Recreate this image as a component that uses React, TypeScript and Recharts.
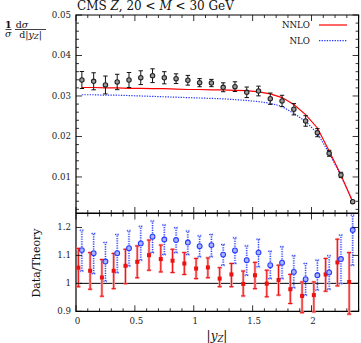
import React from "react";
import {
  ComposedChart, Line, Scatter, XAxis, YAxis, ErrorBar, ReferenceLine, ReferenceArea,
} from "recharts";

// bin centres in |y_Z|
const yBins = [
  0.05, 0.15, 0.25, 0.35, 0.45, 0.55, 0.65, 0.75, 0.85, 0.95, 1.05, 1.15,
  1.25, 1.35, 1.45, 1.55, 1.65, 1.75, 1.85, 1.95, 2.05, 2.15, 2.25, 2.35,
];

// CMS data, 1/sigma dsigma/d|y|
const dataVals = [
  0.03395, 0.03363, 0.03272, 0.03346, 0.03395, 0.03452, 0.03501, 0.0345, 0.03427, 0.03388, 0.03329, 0.0332,
  0.03215, 0.0323, 0.03091, 0.03123, 0.02933, 0.02877, 0.02672, 0.02383, 0.02094, 0.01585, 0.01049, 0.0039,
];
const dataErr = [
  0.0021, 0.0021, 0.0022, 0.0019, 0.00185, 0.0017, 0.0017, 0.0015, 0.0012, 0.0012, 0.001, 0.0009,
  0.0011, 0.0012, 0.0013, 0.0012, 0.0014, 0.0014, 0.0014, 0.0013, 0.001, 0.00074, 0.00066, 0.0003,
];

const nnloVals = [
  0.0321, 0.0321, 0.032, 0.032, 0.0319, 0.0319, 0.0318, 0.0318, 0.0317, 0.0316, 0.0316, 0.0315,
  0.0315, 0.0314, 0.0313, 0.031, 0.0305, 0.0296, 0.0279, 0.0254, 0.0221, 0.0164, 0.0105, 0.0039,
];
const nloVals = [
  0.0303, 0.0303, 0.0302, 0.0302, 0.0301, 0.03, 0.0299, 0.0298, 0.0297, 0.0296, 0.0295, 0.0294,
  0.0293, 0.0291, 0.0289, 0.0286, 0.0282, 0.0274, 0.0257, 0.0237, 0.0208, 0.0159, 0.0103, 0.0039,
];

// Data / NNLO
const ratioNNLO = [
  1.056, 1.045, 1.021, 1.045, 1.063, 1.077, 1.101, 1.087, 1.081, 1.071, 1.053, 1.057,
  1.017, 1.032, 0.998, 1.029, 0.999, 1.012, 0.979, 0.955, 0.958, 1.032, 1.075, 1.005,
];
const ratioNNLOLo = [
  0.988, 0.979, 0.954, 0.981, 0.999, 1.02, 1.047, 1.041, 1.039, 1.032, 1.017, 1.02,
  0.988, 0.988, 0.955, 0.981, 0.952, 0.958, 0.928, 0.895, 0.898, 0.972, 0.991, 0.89,
];
const ratioNNLOHi = [
  1.125, 1.11, 1.085, 1.107, 1.122, 1.134, 1.155, 1.137, 1.122, 1.11, 1.089, 1.091,
  1.056, 1.071, 1.044, 1.075, 1.047, 1.065, 1.032, 1.005, 1.005, 1.089, 1.158, 1.11,
];

// Data / NLO
const ratioNLO = [
  1.119, 1.108, 1.078, 1.108, 1.126, 1.143, 1.167, 1.157, 1.155, 1.146, 1.133, 1.137,
  1.103, 1.118, 1.083, 1.11, 1.065, 1.074, 1.041, 1.015, 1.029, 1.039, 1.087, 1.191,
];
const ratioNLOLo = [
  1.044, 1.035, 1.008, 1.038, 1.062, 1.083, 1.11, 1.103, 1.11, 1.103, 1.095, 1.095,
  1.065, 1.071, 1.029, 1.059, 1.017, 1.017, 0.984, 0.958, 0.976, 0.979, 0.999, 1.065,
];
const ratioNLOHi = [
  1.19, 1.178, 1.146, 1.175, 1.188, 1.204, 1.223, 1.209, 1.199, 1.187, 1.17, 1.175,
  1.139, 1.163, 1.134, 1.158, 1.115, 1.131, 1.099, 1.071, 1.083, 1.099, 1.173, 1.244,
];

const xMajor = [0, 0.5, 1, 1.5, 2];
const xTicks = Array.from({ length: 25 }, (_, i) => i / 10);
const topYTicks = Array.from({ length: 25 }, (_, i) => (i + 1) * 0.002);
const topYMajor = [0.01, 0.02, 0.03, 0.04, 0.05];
const ratioYTicks = [0.9, 1, 1.1, 1.2];

const X_DOMAIN: [number, number] = [0, 2.4];
const TOP_DOMAIN: [number, number] = [0.0011, 0.05];
const RATIO_DOMAIN: [number, number] = [0.9, 1.25];

const W = 361;
const H = 343;
const LEFT = 76;
const RIGHT = 358.6;
const TOP_T = 15;
const TOP_B = 213;
const BOT_T = 213.5;
const BOT_B = 311.3;

const FONT = "DejaVu Serif";

const lineRows = yBins.map((x, i) => ({ x, nnlo: nnloVals[i], nlo: nloVals[i] }));
const dataRows = yBins.map((x, i) => ({ x, y: dataVals[i], err: dataErr[i] }));
const nnloRatioRows = yBins.map((x, i) => ({
  x: x - 0.03,
  y: ratioNNLO[i],
  err: [ratioNNLO[i] - ratioNNLOLo[i], ratioNNLOHi[i] - ratioNNLO[i]],
}));
const nloRatioRows = yBins.map((x, i) => ({
  x,
  y: ratioNLO[i],
  err: [ratioNLO[i] - ratioNLOLo[i], ratioNLOHi[i] - ratioNLO[i]],
}));

const near = (a: number, list: number[]) => list.some((b) => Math.abs(a - b) < 1e-6);
const fmt = (v: number) => String(Math.round(v * 100) / 100);

// inward ticks on bottom and top edge, labels optional
function xTick(top: number, bottom: number, labels: boolean) {
  return (p: any) => {
    const v = p.payload.value;
    const major = near(v, xMajor);
    const len = major ? 6 : 3;
    return (
      <g>
        <line x1={p.x} x2={p.x} y1={bottom} y2={bottom - len} stroke="#000" strokeWidth={0.8} />
        <line x1={p.x} x2={p.x} y1={top} y2={top + len} stroke="#000" strokeWidth={0.8} />
        {labels && major && (
          <text x={p.x + 1.5} y={bottom + 13} textAnchor="middle" fontFamily={FONT} fontSize={8.7} fill="#222">
            {fmt(v)}
          </text>
        )}
      </g>
    );
  };
}

// inward ticks on left and right edge
function yTick(majors: number[], fix: (v: number) => string) {
  return (p: any) => {
    const v = p.payload.value;
    const major = near(v, majors);
    const len = major ? 6 : 3;
    return (
      <g>
        <line x1={LEFT} x2={LEFT + len} y1={p.y} y2={p.y} stroke="#000" strokeWidth={0.8} />
        <line x1={RIGHT} x2={RIGHT - len} y1={p.y} y2={p.y} stroke="#000" strokeWidth={0.8} />
        {major && (
          <text x={LEFT - 5} y={p.y + 3} textAnchor="end" fontFamily={FONT} fontSize={8.7} fill="#222">
            {fix(v)}
          </text>
        )}
      </g>
    );
  };
}

const dataDot = (p: any) => (
  <circle cx={p.cx} cy={p.cy} r={2.2} fill="#9a9a9a" stroke="#222" strokeWidth={1.1} />
);
const redSquare = (p: any) => (
  <rect x={p.cx - 2} y={p.cy - 2} width={4} height={4} fill="#ee1111" />
);
const blueDot = (p: any) => (
  <circle cx={p.cx} cy={p.cy} r={2.4} fill="#a8b4ff" stroke="#2a3cff" strokeWidth={1.1} />
);

export default function App() {
  return (
    <div style={{ position: "fixed", left: 0, top: 0, width: W, height: H, background: "#fff" }}>
      {/* top panel: distributions */}
      <div style={{ position: "absolute", left: 0, top: 0 }}>
        <ComposedChart
          width={W}
          height={TOP_B + 1}
          data={lineRows}
          margin={{ top: TOP_T, right: W - RIGHT, bottom: 0, left: LEFT - 1 }}
        >
          <XAxis
            dataKey="x" type="number" domain={X_DOMAIN} allowDataOverflow ticks={xTicks} interval={0}
            height={1} tickSize={0} tickMargin={0} axisLine={false} tickLine={false}
            tick={xTick(TOP_T, TOP_B, false)}
          />
          <YAxis
            type="number" domain={TOP_DOMAIN} allowDataOverflow ticks={topYTicks} interval={0}
            width={1} tickSize={0} tickMargin={0} axisLine={false} tickLine={false}
            tick={yTick(topYMajor, (v) => v.toFixed(2))}
          />
          <ReferenceArea x1={0} x2={2.4} y1={TOP_DOMAIN[0]} y2={TOP_DOMAIN[1]} fill="none" stroke="#000" strokeWidth={1.2} fillOpacity={0} />
          <Line dataKey="nlo" type="linear" stroke="#2233ff" strokeWidth={1.2} strokeDasharray="1.3 1.3" dot={false} isAnimationActive={false} />
          <Line dataKey="nnlo" type="linear" stroke="#ff0000" strokeWidth={1.2} dot={false} isAnimationActive={false} />
          <Scatter data={dataRows} dataKey="y" shape={dataDot} isAnimationActive={false}>
            <ErrorBar dataKey="err" direction="y" width={2.2} stroke="#111" strokeWidth={1} isAnimationActive={false} />
          </Scatter>
        </ComposedChart>
      </div>

      {/* bottom panel: ratios */}
      <div style={{ position: "absolute", left: 0, top: 0 }}>
        <ComposedChart
          width={W}
          height={H}
          margin={{ top: BOT_T, right: W - RIGHT, bottom: H - BOT_B - 1, left: LEFT - 1 }}
        >
          <XAxis
            dataKey="x" type="number" domain={X_DOMAIN} allowDataOverflow ticks={xTicks} interval={0}
            height={1} tickSize={0} tickMargin={0} axisLine={false} tickLine={false}
            tick={xTick(BOT_T, BOT_B, true)}
          />
          <YAxis
            type="number" domain={RATIO_DOMAIN} allowDataOverflow ticks={ratioYTicks} interval={0}
            width={1} tickSize={0} tickMargin={0} axisLine={false} tickLine={false}
            tick={yTick(ratioYTicks, fmt)}
          />
          <ReferenceArea x1={0} x2={2.4} y1={RATIO_DOMAIN[0]} y2={RATIO_DOMAIN[1]} fill="none" stroke="#000" strokeWidth={1.2} fillOpacity={0} />
          <ReferenceLine y={1} stroke="#000" strokeWidth={1} />
          <Scatter data={nnloRatioRows} dataKey="y" shape={redSquare} isAnimationActive={false}>
            <ErrorBar dataKey="err" direction="y" width={1.8} stroke="#f7a8a8" strokeWidth={2.6} isAnimationActive={false} />
            <ErrorBar dataKey="err" direction="y" width={2.2} stroke="#ee1111" strokeWidth={1} isAnimationActive={false} />
          </Scatter>
          <Scatter data={nloRatioRows} dataKey="y" shape={blueDot} isAnimationActive={false}>
            <ErrorBar dataKey="err" direction="y" width={1.8} stroke="#b8c3f8" strokeWidth={2.6} strokeDasharray="1.2 1.2" isAnimationActive={false} />
            <ErrorBar dataKey="err" direction="y" width={2.2} stroke="#2a3cff" strokeWidth={1} strokeDasharray="1.2 1.2" isAnimationActive={false} />
          </Scatter>
        </ComposedChart>
      </div>

      {/* labels, title and legend */}
      <svg width={W} height={H} style={{ position: "absolute", left: 0, top: 0, pointerEvents: "none" }}>
        <text x={77} y={10} fontFamily={FONT} fontSize={12} fill="#111">
          CMS <tspan fontStyle="italic">Z</tspan>, 20 &lt; <tspan fontStyle="italic">M</tspan> &lt; 30 GeV
        </text>

        <g fontFamily={FONT} fontSize={9.5} fill="#111" textAnchor="middle">
          <text x={8.3} y={27.5} fontWeight="bold">1</text>
          <line x1={5.5} x2={11.5} y1={29.5} y2={29.5} stroke="#111" strokeWidth={0.8} />
          <text x={8.3} y={37} fontStyle="italic">σ</text>
          <text x={22} y={27.5}>d<tspan fontStyle="italic">σ</tspan></text>
          <line x1={15} x2={46} y1={29.5} y2={29.5} stroke="#111" strokeWidth={0.8} />
          <text x={30.5} y={37.5}>
            d|<tspan fontStyle="italic">y</tspan><tspan fontSize={7} dy={1.5} fontStyle="italic">Z</tspan><tspan dy={-1.5}>|</tspan>
          </text>
        </g>

        <text transform="translate(39.5,263) rotate(-90)" textAnchor="middle" fontFamily={FONT} fontSize={11} fill="#111">
          Data/Theory
        </text>

        <text x={217} y={340} textAnchor="middle" fontFamily={FONT} fontSize={12} fill="#111">
          |<tspan fontStyle="italic">y</tspan><tspan fontSize={8.5} dy={2} fontStyle="italic">Z</tspan><tspan dy={-2}>|</tspan>
        </text>

        <g fontFamily={FONT} fontSize={8.7} fill="#111" textAnchor="end">
          <text x={310} y={28.3}>NNLO</text>
          <text x={310} y={43.5}>NLO</text>
        </g>
        <line x1={319} x2={347} y1={25} y2={25} stroke="#ff0000" strokeWidth={1.2} />
        <line x1={319} x2={347} y1={40.7} y2={40.7} stroke="#2233ff" strokeWidth={1.2} strokeDasharray="1.3 1.3" />
      </svg>
    </div>
  );
}
